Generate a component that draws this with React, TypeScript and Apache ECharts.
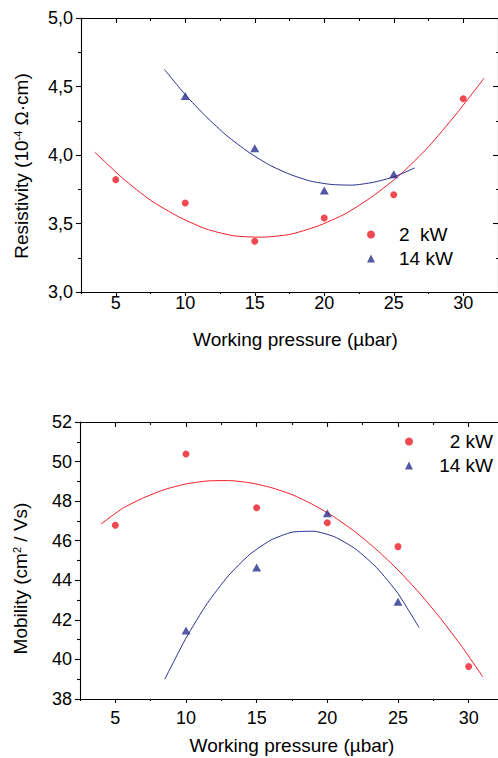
import React, { useEffect, useRef } from "react";
import * as echarts from "echarts";

// ---- data ----
const pressure = [5, 10, 15, 20, 25, 30];
const pressure14 = [10, 15, 20, 25];
const xLabelValues = [5, 10, 15, 20, 25, 30];

// Resistivity (10^-4 Ω·cm)
const res2kW = [3.82, 3.65, 3.37, 3.54, 3.71, 4.41];
const res14kW = [4.43, 4.05, 3.74, 3.86];
const resFit2X = [3.5, 5.5, 7.5, 9.5, 11.5, 13.5, 15.5, 17.5, 19.5, 21.5, 23.5, 25.5, 27.5, 29.5, 31.5];
const resFit2Y = [4.02, 3.83, 3.67, 3.55, 3.46, 3.41, 3.4, 3.42, 3.48, 3.57, 3.7, 3.86, 4.06, 4.3, 4.56];
const resFit14X = [8.5, 10, 11.5, 13, 14.5, 16, 17.5, 19, 20.5, 22, 23.5, 25, 26.5];
const resFit14Y = [4.625, 4.44, 4.28, 4.14, 4.025, 3.93, 3.86, 3.81, 3.785, 3.78, 3.8, 3.84, 3.905];

// Mobility (cm^2 / Vs)
const mob2kW = [46.78, 50.38, 47.67, 46.91, 45.7, 39.64];
const mob14kW = [41.46, 44.64, 47.39, 42.92];
const mobFit2X = [4, 5.5, 7, 8.5, 10, 11.5, 13, 14.5, 16, 17.5, 19, 20.5, 22, 23.5, 25, 26.5, 28, 29.5, 31];
const mobFit2Y = [46.85, 47.63, 48.17, 48.59, 48.87, 49.02, 49.04, 48.93, 48.69, 48.33, 47.82, 47.19, 46.43, 45.54, 44.52, 43.37, 42.08, 40.67, 39.12];
const mobFit14X = [8.5, 10, 11.5, 13, 14.5, 16, 17.5, 19, 20.5, 22, 23.5, 25, 26.5];
const mobFit14Y = [39.0, 41.08, 42.83, 44.23, 45.3, 46.03, 46.43, 46.48, 46.2, 45.58, 44.63, 43.33, 41.6];

const seriesNamesTop = ["2  kW", "14 kW"];
const seriesNamesBottom = ["2 kW", "14 kW"];

const RED = "#ee1c25";
const BLUE = "#2b2e8f";
const FONT = "'Liberation Sans', Arial, Helvetica, sans-serif";
const pair = (xs: number[], ys: number[]) => xs.map((x, i) => [x, ys[i]]);

const axisLineStyle = { color: "#000", width: 1.1 };

function xMain(gridIndex: number, margin: number, nameGap: number, namePad: number[]) {
  return {
    type: "value",
    gridIndex,
    position: "bottom",
    min: 2.5,
    max: 32.5,
    interval: 5,
    name: "Working pressure (µbar)",
    nameLocation: "middle",
    nameGap,
    nameTextStyle: { fontSize: 19, fontFamily: FONT, color: "#000", padding: namePad },
    axisLine: { show: true, onZero: false, lineStyle: axisLineStyle },
    axisTick: { show: true, length: 2, lineStyle: axisLineStyle },
    minorTick: { show: true, splitNumber: 2, length: 4, lineStyle: axisLineStyle },
    axisLabel: { customValues: xLabelValues, margin, fontSize: 18, fontFamily: FONT, color: "#000" },
    splitLine: { show: false },
    minorSplitLine: { show: false },
  };
}
function xMirror(gridIndex: number) {
  return {
    type: "value",
    gridIndex,
    position: "top",
    min: 2.5,
    max: 32.5,
    interval: 5,
    axisLine: { show: true, onZero: false, lineStyle: axisLineStyle },
    axisTick: { show: true, inside: true, length: 3, lineStyle: axisLineStyle },
    minorTick: { show: true, splitNumber: 2, length: 5, lineStyle: axisLineStyle },
    axisLabel: { show: false },
    splitLine: { show: false },
    minorSplitLine: { show: false },
  };
}
function yMain(gridIndex: number, min: number, max: number, interval: number, name: string, rich: any, pad: number[], fmt: (v: number) => string) {
  return {
    type: "value",
    gridIndex,
    position: "left",
    min,
    max,
    interval,
    name,
    nameLocation: "middle",
    nameGap: 50,
    nameTextStyle: { fontSize: 19, fontFamily: FONT, color: "#000", rich, padding: pad },
    axisLine: { show: true, onZero: false, lineStyle: axisLineStyle },
    axisTick: { show: true, length: 5, lineStyle: axisLineStyle },
    minorTick: { show: true, splitNumber: 2, length: 3, lineStyle: axisLineStyle },
    axisLabel: { margin: 8, fontSize: 18, fontFamily: FONT, color: "#000", formatter: fmt },
    splitLine: { show: false },
    minorSplitLine: { show: false },
  };
}
function yMirror(gridIndex: number, min: number, max: number, interval: number, visible: boolean) {
  return {
    type: "value",
    gridIndex,
    position: "right",
    min,
    max,
    interval,
    axisLine: { show: visible, onZero: false, lineStyle: axisLineStyle },
    axisTick: { show: visible, inside: true, length: 5, lineStyle: axisLineStyle },
    minorTick: { show: visible, splitNumber: 2, length: 2, lineStyle: axisLineStyle },
    axisLabel: { show: false },
    splitLine: { show: false },
    minorSplitLine: { show: false },
  };
}

const supStyle = { fontSize: 11, fontFamily: FONT, color: "#000", verticalAlign: "top" };

export default function App() {
  const ref = useRef<HTMLDivElement>(null);
  useEffect(() => {
    if (!ref.current) return;
    const chart = echarts.init(ref.current, null, { renderer: "svg" });
    const scatter = (name: string, data: number[][], color: string, symbol: string, size: any, xi: number, yi: number) => ({
      type: "scatter",
      name,
      data,
      xAxisIndex: xi,
      yAxisIndex: yi,
      symbol,
      symbolSize: size,
      itemStyle: { color },
      z: 3,
    });
    const fit = (name: string, data: number[][], color: string, xi: number, yi: number) => ({
      type: "line",
      name,
      data,
      xAxisIndex: xi,
      yAxisIndex: yi,
      showSymbol: false,
      symbol: "none",
      smooth: 0.2,
      lineStyle: { color, width: 1 },
      itemStyle: { color },
      z: 2,
    });
    chart.setOption({
      animation: false,
      backgroundColor: "#fff",
      grid: [
        { left: 81, top: 18, width: 417, height: 274, outerBoundsMode: "none", containLabel: false },
        { left: 80, top: 422, width: 424, height: 277, outerBoundsMode: "none", containLabel: false },
      ],
      xAxis: [xMain(0, 2, 38, [0, 0, 0, 12]), xMirror(0), xMain(1, 10, 37, [0, 0, 0, 0]), xMirror(1)],
      yAxis: [
        yMain(0, 3, 5, 0.5, "Resistivity (10{sup|-4} Ω·cm)", { sup: supStyle }, [0, 22, 0, 0], (v: number) => v.toFixed(1).replace(".", ",")),
        yMirror(0, 3, 5, 0.5, true),
        yMain(1, 38, 52, 2, "Mobility (cm{sup|2} / Vs)", { sup: supStyle }, [0, 36, 0, 0], (v: number) => String(v)),
        yMirror(1, 38, 52, 2, false),
      ],
      legend: [
        {
          data: seriesNamesTop,
          orient: "vertical",
          left: 367,
          top: 225,
          padding: 0,
          itemWidth: 8,
          itemHeight: 8,
          itemGap: 5,
          formatter: "{a|{name}}",
          textStyle: { fontSize: 19, fontFamily: FONT, color: "#000", rich: { a: { fontSize: 19, fontFamily: FONT, color: "#000", padding: [0, 0, 0, 19] } } },
        },
        {
          data: seriesNamesBottom,
          orient: "vertical",
          left: 405,
          top: 432,
          padding: 0,
          itemWidth: 8,
          itemHeight: 8,
          itemGap: 5,
          formatter: "{a|{name}}",
          textStyle: { fontSize: 19, fontFamily: FONT, color: "#000", rich: { a: { fontSize: 19, fontFamily: FONT, color: "#000", width: 75, align: "right" } } },
        },
      ],
      series: [
        fit("fit 2 kW resistivity", pair(resFit2X, resFit2Y), RED, 0, 0),
        fit("fit 14 kW resistivity", pair(resFit14X, resFit14Y), BLUE, 0, 0),
        scatter(seriesNamesTop[0], pair(pressure, res2kW), RED, "circle", 7, 0, 0),
        scatter(seriesNamesTop[1], pair(pressure14, res14kW), BLUE, "triangle", [9, 8], 0, 0),
        fit("fit 2 kW mobility", pair(mobFit2X, mobFit2Y), RED, 2, 2),
        fit("fit 14 kW mobility", pair(mobFit14X, mobFit14Y), BLUE, 2, 2),
        scatter(seriesNamesBottom[0], pair(pressure, mob2kW), RED, "circle", 7, 2, 2),
        scatter("14 kW ", pair(pressure14, mob14kW), BLUE, "triangle", [9, 8], 2, 2),
      ],
    });
    return () => chart.dispose();
  }, []);
  return <div ref={ref} style={{ position: "absolute", left: 0, top: 0, width: 498, height: 758 }} />;
}
